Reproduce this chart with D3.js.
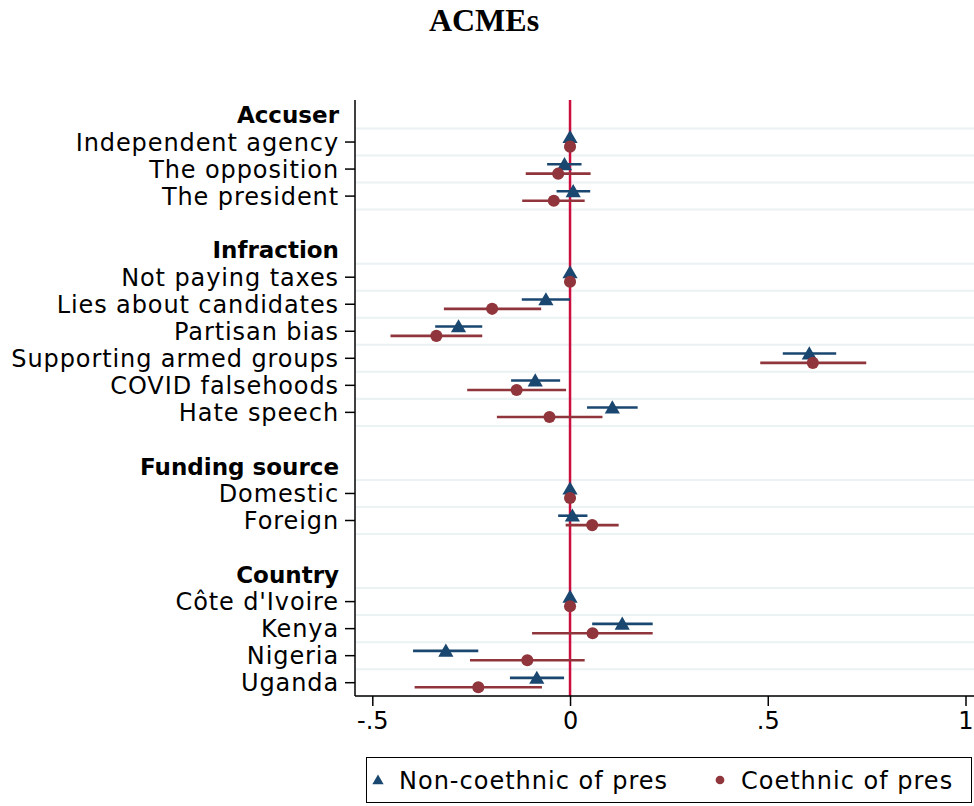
<!DOCTYPE html>
<html>
<head>
<meta charset="utf-8">
<script src="https://cdn.jsdelivr.net/npm/d3@7"></script>
<style>
  body { margin: 0; background: #fff; }
  svg { display: block; }
</style>
</head>
<body>
<div id="chart"></div>
<script>
// row layout: headers, items and blank spacer rows, top to bottom
const rowLabels = [
  "Accuser", "Independent agency", "The opposition", "The president", "",
  "Infraction", "Not paying taxes", "Lies about candidates", "Partisan bias",
  "Supporting armed groups", "COVID falsehoods", "Hate speech", "",
  "Funding source", "Domestic", "Foreign", "",
  "Country", "Côte d'Ivoire", "Kenya", "Nigeria", "Uganda"
];
const headers = ["Accuser", "Infraction", "Funding source", "Country"];

// estimates for the item rows, in the order they appear above
const nonEst = [0, -0.014, 0.008, 0, -0.061, -0.282, 0.605, -0.088, 0.107, 0, 0.006, 0, 0.132, -0.314, -0.084];
const nonLo  = [0, -0.058, -0.034, 0, -0.122, -0.341, 0.538, -0.149, 0.043, 0, -0.030, 0, 0.056, -0.397, -0.152];
const nonHi  = [0, 0.029, 0.051, 0, 0.000, -0.222, 0.673, -0.025, 0.171, 0, 0.044, 0, 0.209, -0.232, -0.015];
const coEst  = [0, -0.030, -0.041, 0, -0.197, -0.338, 0.614, -0.135, -0.052, 0, 0.056, 0, 0.057, -0.108, -0.232];
const coLo   = [0, -0.112, -0.121, 0, -0.319, -0.454, 0.481, -0.260, -0.185, 0, -0.011, 0, -0.096, -0.253, -0.393];
const coHi   = [0, 0.052, 0.037, 0, -0.073, -0.222, 0.749, -0.010, 0.082, 0, 0.123, 0, 0.209, 0.037, -0.071];

const xTicks = [-0.5, 0, 0.5, 1];
const xTickLabels = ["-.5", "0", ".5", "1"];
const seriesNames = ["Non-coethnic of pres", "Coethnic of pres"];

const W = 974, H = 806;
const NAVY = "#1a476f", MAROON = "#90353b", GRID = "#eaf2f3", REF = "#cc0e3e";
const FONT = "'DejaVu Sans', sans-serif";

const plot = { left: 355, right: 974, top: 100, bottom: 696 };

const x = d3.scaleLinear().domain([-0.5, 1]).range([372.3, 965.5]);
const y = d3.scaleLinear().domain([0, rowLabels.length - 1]).range([115, 682.7]);
const step = y(1) - y(0);

// map item rows to their estimate index
const rows = rowLabels.map((label, i) => ({ label, i }));
let k = 0;
rows.forEach(r => {
  r.header = headers.includes(r.label);
  r.item = !r.header && r.label !== "";
  if (r.item) r.k = k++;
});
const items = rows.filter(r => r.item);

const svg = d3.select("#chart").append("svg")
  .attr("width", W).attr("height", H)
  .style("font-family", FONT);

svg.append("text")
  .attr("x", 484).attr("y", 31)
  .attr("text-anchor", "middle")
  .style("font-family", "'Liberation Serif', 'Times New Roman', serif")
  .style("font-weight", "bold")
  .style("font-size", "32px")
  .text("ACMEs");

// gridlines around each item row
const gridYs = [];
items.forEach(r => { gridYs.push(y(r.i) - step / 2, y(r.i) + step / 2); });
svg.append("g").selectAll("line")
  .data(Array.from(new Set(gridYs.map(v => Math.round(v * 10) / 10))))
  .join("line")
  .attr("x1", plot.left + 1).attr("x2", plot.right)
  .attr("y1", d => d).attr("y2", d => d)
  .attr("stroke", GRID).attr("stroke-width", 2);

// reference line at zero
svg.append("line")
  .attr("x1", x(0)).attr("x2", x(0))
  .attr("y1", plot.top).attr("y2", plot.bottom)
  .attr("stroke", REF).attr("stroke-width", 2.5);

// axes
const yAxisG = svg.append("g");
yAxisG.append("line")
  .attr("x1", plot.left).attr("x2", plot.left)
  .attr("y1", plot.top).attr("y2", plot.bottom)
  .attr("stroke", "#000").attr("stroke-width", 1.5);
yAxisG.selectAll("line.tick")
  .data(items).join("line").attr("class", "tick")
  .attr("x1", plot.left - 10).attr("x2", plot.left)
  .attr("y1", d => y(d.i)).attr("y2", d => y(d.i))
  .attr("stroke", "#000").attr("stroke-width", 1.5);
yAxisG.selectAll("text")
  .data(rows.filter(r => r.label !== "")).join("text")
  .attr("x", plot.left - 16)
  .attr("y", d => y(d.i))
  .attr("dy", "0.36em")
  .attr("text-anchor", "end")
  .style("font-size", d => d.header ? "23px" : "24px")
  .style("letter-spacing", d => d.header ? "0px" : "0.9px")
  .style("font-weight", d => d.header ? "bold" : "normal")
  .attr("fill", "#000")
  .text(d => d.label);

const xAxisG = svg.append("g").attr("transform", `translate(0,${plot.bottom})`);
xAxisG.call(d3.axisBottom(x).tickValues(xTicks)
  .tickFormat((d, i) => xTickLabels[i]).tickSize(10).tickPadding(6));
xAxisG.select(".domain").remove();
xAxisG.append("line")
  .attr("x1", plot.left).attr("x2", plot.right)
  .attr("stroke", "#000").attr("stroke-width", 1.5);
xAxisG.selectAll(".tick line").attr("stroke-width", 1.5);
xAxisG.selectAll(".tick text")
  .style("font-family", FONT).style("font-size", "24px").attr("fill", "#000");

// series
const series = [
  { name: seriesNames[0], est: nonEst, lo: nonLo, hi: nonHi, color: NAVY, off: -4.8, shape: d3.symbolTriangle, size: 100 },
  { name: seriesNames[1], est: coEst, lo: coLo, hi: coHi, color: MAROON, off: 4.6, shape: d3.symbolCircle, size: 115 }
];

series.forEach(s => {
  const g = svg.append("g");
  g.selectAll("line")
    .data(items.filter(r => s.lo[r.k] !== s.hi[r.k])).join("line")
    .attr("x1", r => x(s.lo[r.k])).attr("x2", r => x(s.hi[r.k]))
    .attr("y1", r => y(r.i) + s.off).attr("y2", r => y(r.i) + s.off)
    .attr("stroke", s.color).attr("stroke-width", 2.6);
  g.selectAll("path")
    .data(items).join("path")
    .attr("d", d3.symbol(s.shape, s.size))
    .attr("transform", r => `translate(${x(s.est[r.k])},${y(r.i) + s.off + (s.shape === d3.symbolTriangle ? 1.5 : 0)})`)
    .attr("fill", s.color);
});

// legend
const leg = svg.append("g");
leg.append("rect")
  .attr("x", 366.5).attr("y", 757.5).attr("width", 605).attr("height", 45)
  .attr("fill", "#fff").attr("stroke", "#000").attr("stroke-width", 1);
const legX = [378, 720];
series.forEach((s, i) => {
  leg.append("path")
    .attr("d", d3.symbol(s.shape, s === series[0] ? 55 : 60))
    .attr("transform", `translate(${legX[i]},${s === series[0] ? 781 : 780})`)
    .attr("fill", s.color);
  leg.append("text")
    .attr("x", legX[i] + 21).attr("y", 780)
    .attr("dy", "0.36em")
    .style("font-size", "24px")
    .style("letter-spacing", "1px")
    .text(s.name);
});
</script>
</body>
</html>
